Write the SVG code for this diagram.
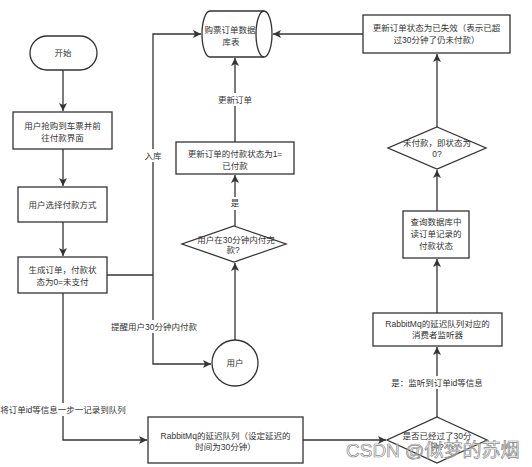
<svg xmlns="http://www.w3.org/2000/svg" width="532" height="467" viewBox="0 0 532 467">
<style>
.n{fill:#fff;stroke:#333;stroke-width:1.3}
.t{font-family:"Liberation Sans","Noto Sans CJK SC",sans-serif;font-size:8.5px;fill:#333;text-anchor:middle;dominant-baseline:central}
.e{fill:none;stroke:#333;stroke-width:1.3}
.lb{fill:#fff}
</style>
<defs>
<marker id="a" markerUnits="userSpaceOnUse" markerWidth="9" markerHeight="8" refX="8" refY="4" orient="auto">
<path d="M0,0 L8,4 L0,8 L2,4 Z" fill="#333"/>
</marker>
</defs>
<rect width="532" height="467" fill="#fff"/>
<g id="connectors">
<path class="e" d="M63,70 V111" marker-end="url(#a)"/>
<path class="e" d="M63,149 V186" marker-end="url(#a)"/>
<path class="e" d="M63,222 V256" marker-end="url(#a)"/>
<path class="e" d="M107,275 H153"/>
<path class="e" d="M153,275 V34 H201" marker-end="url(#a)"/>
<path class="e" d="M153,275 V364 H211" marker-end="url(#a)"/>
<path class="e" d="M235,340 V263" marker-end="url(#a)"/>
<path class="e" d="M235,226 V175" marker-end="url(#a)"/>
<path class="e" d="M235,142 V58" marker-end="url(#a)"/>
<path class="e" d="M363,34 H273" marker-end="url(#a)"/>
<path class="e" d="M437,127 V54" marker-end="url(#a)"/>
<path class="e" d="M437,211 V170" marker-end="url(#a)"/>
<path class="e" d="M437,313 V259" marker-end="url(#a)"/>
<path class="e" d="M437,417 V347" marker-end="url(#a)"/>
<path class="e" d="M303,440 H386" marker-end="url(#a)"/>
<path class="e" d="M63,293 V440 H147" marker-end="url(#a)"/>
<rect class="lb" x="143" y="149" width="21" height="13"/>
<text class="t" x="153" y="156">入库</text>
<rect class="lb" x="110" y="320" width="89" height="13"/>
<text class="t" x="154" y="327">提醒用户30分钟内付款</text>
<rect class="lb" x="229" y="197" width="12" height="13"/>
<text class="t" x="235" y="203">是</text>
<rect class="lb" x="217" y="93" width="36" height="13"/>
<text class="t" x="235" y="100">更新订单</text>
<rect class="lb" x="388" y="376" width="98" height="13"/>
<text class="t" x="437" y="383">是：监听到订单id等信息</text>
<rect class="lb" x="0" y="403" width="127" height="13"/>
<text class="t" x="63" y="410">将订单id等信息一步一记录到队列</text>
</g>
<g id="start">
<rect class="n" x="30" y="36" width="67" height="34" rx="17"/>
<text class="t" x="63" y="53">开始</text>
</g>
<g id="grab">
<rect class="n" x="13" y="112" width="99" height="37"/>
<text class="t" x="62.5" y="126">用户抢购到车票并前</text>
<text class="t" x="62.5" y="138">往付款界面</text>
</g>
<g id="choose">
<rect class="n" x="18" y="187" width="89" height="35"/>
<text class="t" x="62.5" y="205">用户选择付款方式</text>
</g>
<g id="order">
<rect class="n" x="18" y="257" width="89" height="36"/>
<text class="t" x="62.5" y="270">生成订单，付款状</text>
<text class="t" x="62.5" y="282">态为0=未支付</text>
</g>
<g id="db">
<path class="n" d="M210,11 H264 A8,23 0 0 1 264,57 H210 A8,23 0 0 1 210,11 Z"/>
<path class="e" d="M264,11 A8,23 0 0 0 264,57"/>
<text class="t" x="230" y="30">购票订单数据</text>
<text class="t" x="231" y="42">库表</text>
</g>
<g id="user">
<circle class="n" cx="235" cy="363" r="23"/>
<text class="t" x="235" y="363">用户</text>
</g>
<g id="paid-q">
<path class="n" d="M234,226 L286,244 L234,262 L182,244 Z"/>
<text class="t" x="236" y="240">用户在30分钟内付完</text>
<text class="t" x="233" y="250">款?</text>
</g>
<g id="set-paid">
<rect class="n" x="176" y="142" width="118" height="32"/>
<text class="t" x="235" y="154">更新订单的付款状态为1=</text>
<text class="t" x="235" y="166">已付款</text>
</g>
<g id="expire">
<rect class="n" x="363" y="15" width="147" height="38"/>
<text class="t" x="436.5" y="28">更新订单状态为已失效（表示已超</text>
<text class="t" x="436.5" y="40">过30分钟了仍未付款）</text>
</g>
<g id="unpaid-q">
<path class="n" d="M437,127 L486,148 L437,169 L388,148 Z"/>
<text class="t" x="437" y="143">未付款，即状态为</text>
<text class="t" x="437" y="154">0?</text>
</g>
<g id="query">
<rect class="n" x="403" y="211" width="66" height="47"/>
<text class="t" x="436" y="222">查询数据库中</text>
<text class="t" x="436" y="234">读订单记录的</text>
<text class="t" x="436" y="246">付款状态</text>
</g>
<g id="listener">
<rect class="n" x="373" y="313" width="129" height="33"/>
<text class="t" x="437.5" y="324">RabbitMq的延迟队列对应的</text>
<text class="t" x="437.5" y="335">消费者监听器</text>
</g>
<g id="time-q">
<path class="n" d="M437,417 L487,440 L437,463 L387,440 Z"/>
<text class="t" x="437" y="436">是否已经过了30分</text>
<text class="t" x="437" y="447">钟?</text>
</g>
<g id="delay-queue">
<rect class="n" x="148" y="417" width="155" height="46"/>
<text class="t" x="225.5" y="436">RabbitMq的延迟队列（设定延迟的</text>
<text class="t" x="225.5" y="447">时间为30分钟）</text>
</g>
<text x="346" y="457" font-family="Liberation Sans,'Noto Sans CJK SC',sans-serif" font-size="19" fill="#fff" fill-opacity="0.5" stroke="#888" stroke-width="0.7">CSDN @似梦的苏烟</text>
</svg>
